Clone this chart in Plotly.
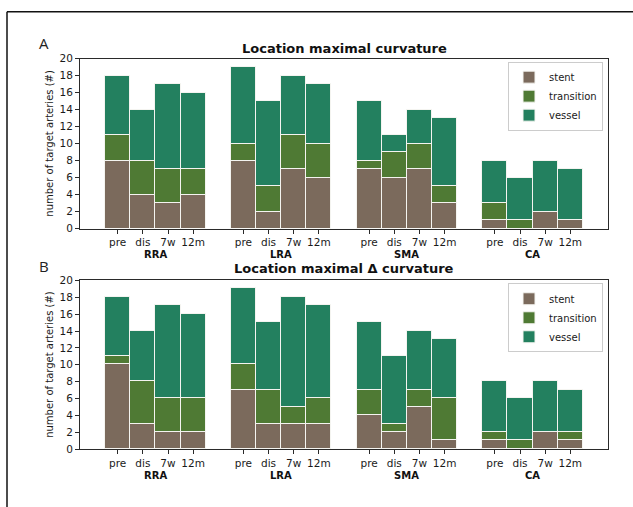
import plotly.graph_objects as go

# Arteries and follow-up moments
arteries = ["RRA", "LRA", "SMA", "CA"]
moments = ["pre", "dis", "7w", "12m"]
locations = ["stent", "transition", "vessel"]

# Panel A: location of maximal curvature (counts per artery, per moment)
a_stent = [8, 4, 3, 4, 8, 2, 7, 6, 7, 6, 7, 3, 1, 0, 2, 1]
a_transition = [3, 4, 4, 3, 2, 3, 4, 4, 1, 3, 3, 2, 2, 1, 0, 0]
a_vessel = [7, 6, 10, 9, 9, 10, 7, 7, 7, 2, 4, 8, 5, 5, 6, 6]

# Panel B: location of maximal delta curvature
b_stent = [10, 3, 2, 2, 7, 3, 3, 3, 4, 2, 5, 1, 1, 0, 2, 1]
b_transition = [1, 5, 4, 4, 3, 4, 2, 3, 3, 1, 2, 5, 1, 1, 0, 1]
b_vessel = [7, 6, 11, 10, 9, 8, 13, 11, 8, 8, 7, 7, 6, 5, 6, 5]

colors = {"stent": "#7b6a5c", "transition": "#4f7a34", "vessel": "#23805f"}

W, H = 633, 507
# bar positions: four bars per artery, one empty slot between arteries
xpos = [5 * g + m for g in range(len(arteries)) for m in range(len(moments))]
ticktext = [m for _ in arteries for m in moments]
group_centers = [5 * g + 1.5 for g in range(len(arteries))]

fig = go.Figure()
panels = [
    ("x", "y", "legend", {"stent": a_stent, "transition": a_transition, "vessel": a_vessel}),
    ("x2", "y2", "legend2", {"stent": b_stent, "transition": b_transition, "vessel": b_vessel}),
]
for xa, ya, leg, series in panels:
    for loc in locations:
        fig.add_trace(go.Bar(
            x=xpos, y=series[loc], name=loc, width=1,
            marker=dict(color=colors[loc], line=dict(color="#f4f4f0", width=1)),
            xaxis=xa, yaxis=ya, legend=leg,
        ))

def px_x(p):
    return p / W

def px_y(p):
    return 1 - p / H

axis_common = dict(
    showline=True, mirror=True, linecolor="#2a2a2a", linewidth=1,
    ticks="outside", ticklen=4, tickcolor="#2a2a2a", tickwidth=1,
    showgrid=False, zeroline=False,
    tickfont=dict(family="DejaVu Sans", size=10.5, color="#1a1a1a"),
)

xdom = [px_x(80), px_x(608)]
fig.update_layout(
    width=W, height=H, margin=dict(l=0, r=0, t=0, b=0),
    paper_bgcolor="white", plot_bgcolor="white",
    barmode="stack", bargap=0,
    font=dict(family="DejaVu Sans", color="#1a1a1a"),
    xaxis=dict(domain=xdom, anchor="y", range=[-1.5, 19.5],
               tickmode="array", tickvals=xpos, ticktext=ticktext, **axis_common),
    yaxis=dict(domain=[px_y(228), px_y(54)], anchor="x", range=[0, 20],
               tickmode="array", tickvals=list(range(0, 21, 2)), **axis_common),
    xaxis2=dict(domain=xdom, anchor="y2", range=[-1.5, 19.5],
                tickmode="array", tickvals=xpos, ticktext=ticktext, **axis_common),
    yaxis2=dict(domain=[px_y(454), px_y(281)], anchor="x2", range=[0, 20],
                tickmode="array", tickvals=list(range(0, 21, 2)), **axis_common),
)

legend_style = dict(
    xanchor="right", yanchor="top", x=px_x(603),
    bgcolor="rgba(255,255,255,0.85)", bordercolor="#cccccc", borderwidth=1,
    font=dict(family="DejaVu Sans", size=10, color="#1a1a1a"),
    traceorder="normal", tracegroupgap=0, itemwidth=30,
)
fig.update_layout(
    legend=dict(y=px_y(57), **legend_style),
    legend2=dict(y=px_y(284), **legend_style),
)

annotations = []
# panel titles
for text, ypix in [("<b>Location maximal curvature</b>", 44),
                   ("<b>Location maximal Δ curvature</b>", 269)]:
    annotations.append(dict(text=text, xref="paper", yref="paper",
                            x=px_x(344), y=px_y(ypix), xanchor="center", yanchor="middle",
                            showarrow=False, font=dict(size=13, family="DejaVu Sans", color="#111")))
# panel letters
for text, ypix in [("A", 38), ("B", 266)]:
    annotations.append(dict(text=text, xref="paper", yref="paper",
                            x=px_x(37), y=px_y(ypix), xanchor="left", yanchor="middle",
                            showarrow=False, font=dict(size=15, family="Open Sans", color="#222")))
# y-axis titles
for ycen in [(54 + 228) / 2, (281 + 454) / 2]:
    annotations.append(dict(text="number of target arteries (#)", xref="paper", yref="paper",
                            x=px_x(50), y=px_y(ycen), xanchor="center", yanchor="middle",
                            textangle=-90, showarrow=False,
                            font=dict(size=10, family="DejaVu Sans", color="#1a1a1a")))
# artery group labels beneath the moment tick labels
for xa, ypix in [("x", 255), ("x2", 481)]:
    for name, xc in zip(arteries, group_centers):
        annotations.append(dict(text=f"<b>{name}</b>", xref=xa, yref="paper",
                                x=xc, y=px_y(ypix), xanchor="center", yanchor="middle",
                                showarrow=False,
                                font=dict(size=10, family="DejaVu Sans", color="#111")))
fig.update_layout(annotations=annotations)

# frame lines along the left and top of the figure
frame = dict(color="#111", width=1.5)
fig.add_shape(type="line", xref="paper", yref="paper",
              x0=px_x(7), y0=px_y(6), x1=px_x(W + 10), y1=px_y(6), line=frame, layer="above")
fig.add_shape(type="line", xref="paper", yref="paper",
              x0=px_x(7), y0=px_y(6), x1=px_x(7), y1=px_y(H + 10), line=frame, layer="above")

fig.write_html("out.html")
